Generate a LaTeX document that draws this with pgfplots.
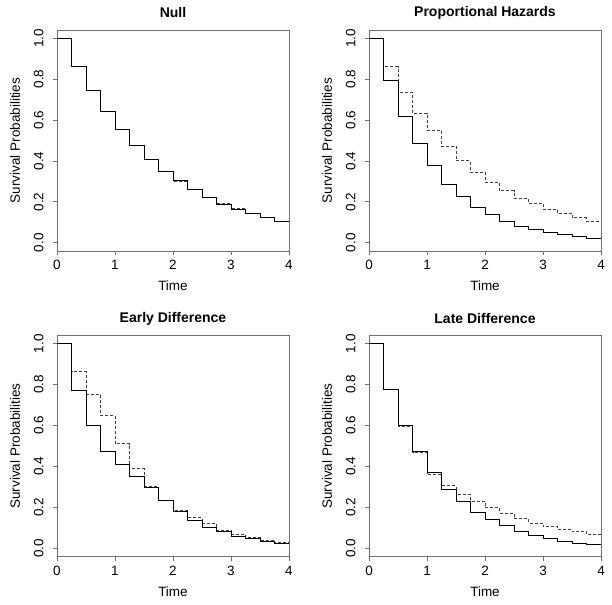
\documentclass[border=0pt]{standalone}
\usepackage{fontspec}
\setmainfont{Liberation Sans}
\usepackage{pgfplots}
\pgfplotsset{compat=1.18}

\definecolor{axisgray}{HTML}{707070}
\definecolor{dashgray}{HTML}{404040}

\pgfplotsset{
  kmpanel/.style={
    scale only axis,
    width=232pt, height=221pt,
    anchor=south west,
    xmin=0, xmax=4, ymin=-0.04, ymax=1.04,
    xtick={0,1,2,3,4},
    ytick={0,0.2,0.4,0.6,0.8,1},
    xtick pos=left, ytick pos=left,
    tick align=outside,
    major tick length=4pt,
    axis line style={axisgray, line width=0.8pt},
    every tick/.style={axisgray, line width=0.8pt},
    font=\fontsize{13.5}{16}\selectfont,
    /pgf/number format/assume math mode=true,
    yticklabel style={xshift=-6pt, rotate=90, anchor=south, /pgf/number format/.cd, fixed, fixed zerofill, precision=1},
    xticklabel style={yshift=-2pt},
    xlabel={Time},
    ylabel={Survival Probabilities},
    every axis x label/.style={at={(axis description cs:0.5,0)}, anchor=center, yshift=-35pt, font=\fontsize{13.5}{16}\selectfont},
    every axis y label/.style={at={(axis description cs:0,0.5)}, anchor=center, xshift=-42pt, rotate=90, font=\fontsize{13.5}{16}\selectfont},
    title style={at={(axis description cs:0.5,1)}, anchor=center, yshift=11pt, font=\fontsize{14}{16}\selectfont\bfseries},
  },
  solidkm/.style={const plot, black, line width=0.9pt, mark=none},
  dashkm/.style={const plot, dashgray, line width=0.8pt, dash pattern=on 3pt off 2pt, mark=none},
}

\begin{document}
\begin{tikzpicture}
\path (0,0) rectangle (612pt,604pt);

% Null
\begin{axis}[kmpanel, at={(57pt,353pt)}, title={Null}]
\addplot[dashkm] coordinates {(0,1) (0.25,0.860) (0.5,0.743) (0.75,0.640) (1,0.554) (1.25,0.475) (1.5,0.407) (1.75,0.350) (2,0.302) (2.25,0.259) (2.5,0.223) (2.75,0.195) (3,0.167) (3.25,0.142) (3.5,0.122) (3.75,0.104) (4,0.104)};
\addplot[solidkm] coordinates {(0,1) (0.25,0.863) (0.5,0.746) (0.75,0.640) (1,0.554) (1.25,0.477) (1.5,0.409) (1.75,0.350) (2,0.305) (2.25,0.259) (2.5,0.221) (2.75,0.189) (3,0.163) (3.25,0.142) (3.5,0.122) (3.75,0.106) (4,0.106)};
\end{axis}

% Proportional Hazards
\begin{axis}[kmpanel, at={(369pt,353pt)}, title={Proportional Hazards}]
\addplot[dashkm] coordinates {(0,1) (0.25,0.860) (0.5,0.736) (0.75,0.634) (1,0.550) (1.25,0.471) (1.5,0.401) (1.75,0.344) (2,0.295) (2.25,0.254) (2.5,0.217) (2.75,0.192) (3,0.163) (3.25,0.143) (3.5,0.122) (3.75,0.107) (4,0.107)};
\addplot[solidkm] coordinates {(0,1) (0.25,0.792) (0.5,0.619) (0.75,0.484) (1,0.378) (1.25,0.287) (1.5,0.228) (1.75,0.174) (2,0.137) (2.25,0.104) (2.5,0.081) (2.75,0.064) (3,0.049) (3.25,0.039) (3.5,0.029) (3.75,0.023) (4,0.023)};
\end{axis}

% Early Difference
\begin{axis}[kmpanel, at={(57pt,47.5pt)}, title={Early Difference}]
\addplot[dashkm] coordinates {(0,1) (0.25,0.863) (0.5,0.753) (0.75,0.650) (1,0.512) (1.25,0.390) (1.5,0.301) (1.75,0.233) (2,0.184) (2.25,0.151) (2.5,0.122) (2.75,0.089) (3,0.068) (3.25,0.052) (3.5,0.041) (3.75,0.029) (4,0.029)};
\addplot[solidkm] coordinates {(0,1) (0.25,0.772) (0.5,0.602) (0.75,0.472) (1,0.410) (1.25,0.350) (1.5,0.298) (1.75,0.233) (2,0.182) (2.25,0.135) (2.5,0.104) (2.75,0.081) (3,0.060) (3.25,0.046) (3.5,0.034) (3.75,0.026) (4,0.026)};
\end{axis}

% Late Difference
\begin{axis}[kmpanel, at={(369pt,47.5pt)}, title={Late Difference}]
\addplot[dashkm] coordinates {(0,1) (0.25,0.776) (0.5,0.597) (0.75,0.468) (1,0.359) (1.25,0.307) (1.5,0.263) (1.75,0.231) (2,0.200) (2.25,0.172) (2.5,0.146) (2.75,0.124) (3,0.106) (3.25,0.093) (3.5,0.081) (3.75,0.068) (4,0.068)};
\addplot[solidkm] coordinates {(0,1) (0.25,0.776) (0.5,0.602) (0.75,0.475) (1,0.371) (1.25,0.289) (1.5,0.231) (1.75,0.177) (2,0.141) (2.25,0.111) (2.5,0.083) (2.75,0.062) (3,0.047) (3.25,0.034) (3.5,0.026) (3.75,0.020) (4,0.020)};
\end{axis}
\end{tikzpicture}
\end{document}
